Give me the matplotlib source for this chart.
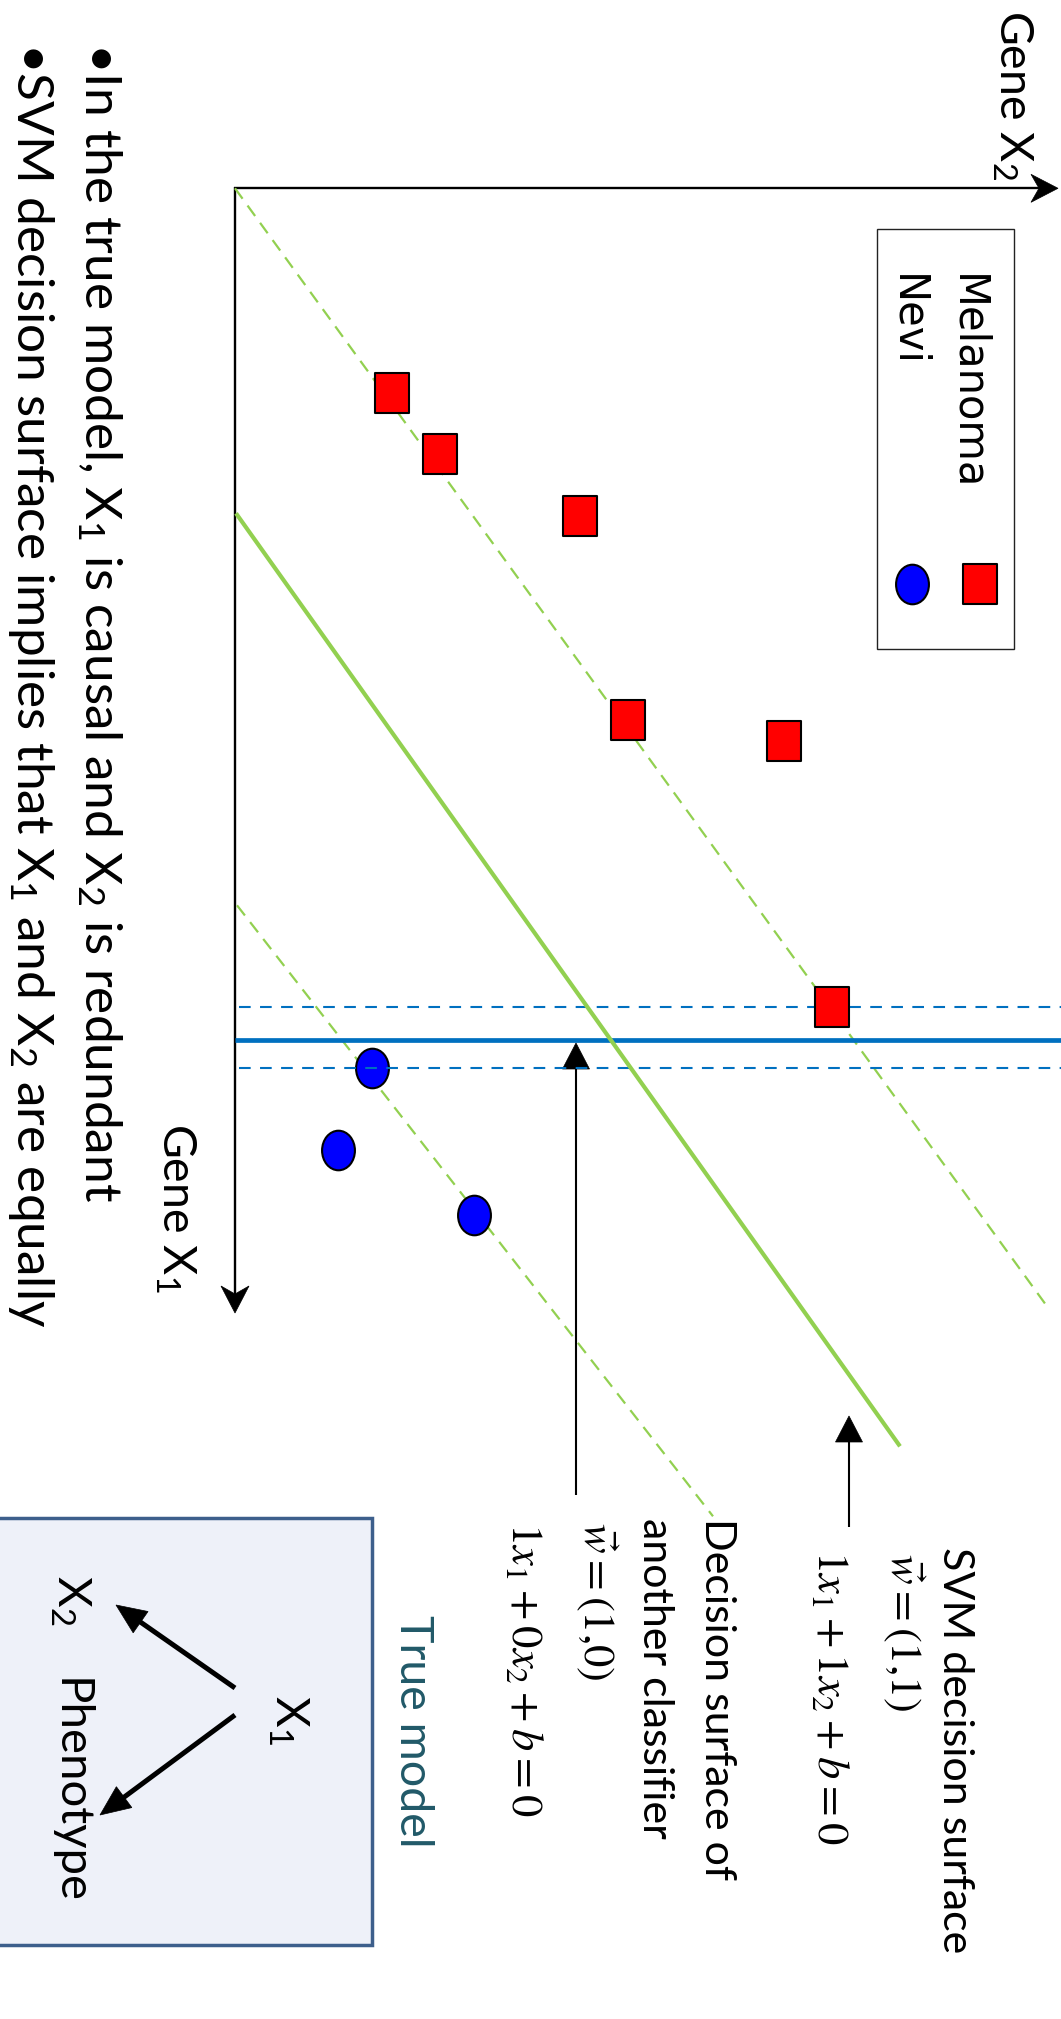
import numpy as np
import matplotlib
matplotlib.use("Agg")
import matplotlib.pyplot as plt
from matplotlib.path import Path
from matplotlib.patches import Rectangle, Polygon

# ---- data (gene-expression space: X1 runs down the page, X2 runs right) ----
melanoma_x2 = [1.57, 2.05, 3.45, 3.93, 5.49, 5.97]
melanoma_x1 = [2.05, 2.66, 3.28, 5.32, 5.53, 8.19]
nevi_x2 = [1.37, 1.03, 2.39]
nevi_x1 = [8.80, 9.62, 10.27]

# SVM decision surface and its two margins (endpoints in gene units)
svm_x2 = [0.01, 6.65]
svm_x1 = [3.25, 12.58]
svm_upper_x2 = [0.00, 8.12]
svm_upper_x1 = [0.00, 11.18]
svm_lower_x2 = [0.02, 4.78]
svm_lower_x1 = [7.17, 13.28]

# Other classifier: x1 = const, with margins
other_x1 = 8.52
other_margin_x1 = [8.19, 8.80]
other_x2_span = [0.00, 8.26]

legend_labels = ["Melanoma", "Nevi"]

# ---- style ----
plt.rcParams["font.family"] = ["Lato", "DejaVu Sans"]
plt.rcParams["mathtext.fontset"] = "custom"
plt.rcParams["mathtext.rm"] = "Lato"
plt.rcParams["mathtext.it"] = "Lato:italic"
plt.rcParams["mathtext.bf"] = "Lato:bold"

W, H = 1061, 2019
fig = plt.figure(figsize=(W / 100, H / 100), dpi=100)

# pixel-space layer for annotations
axp = fig.add_axes([0, 0, 1, 1])
axp.set_xlim(0, W)
axp.set_ylim(H, 0)
axp.axis("off")

# gene-space layer for the data
ORIGIN = (235.0, 188.3)
UNIT = 100.0
ax = fig.add_axes([0, 0, 1, 1])
ax.set_xlim(-ORIGIN[0] / UNIT, (W - ORIGIN[0]) / UNIT)
ax.set_ylim((H - ORIGIN[1]) / UNIT, -ORIGIN[1] / UNIT)
ax.axis("off")
ax.patch.set_alpha(0)

# custom marker shapes
rect_marker = Path([(-0.42, -0.5), (0.42, -0.5), (0.42, 0.5), (-0.42, 0.5), (-0.42, -0.5)],
                   [Path.MOVETO, Path.LINETO, Path.LINETO, Path.LINETO, Path.CLOSEPOLY])
circ = Path.unit_circle()
ellipse_marker = Path(circ.vertices * np.array([0.83, 1.0]), circ.codes)

GREEN = "#92D050"
LBLUE = "#0070C0"

# lines
ax.plot(svm_upper_x2, svm_upper_x1, color=GREEN, lw=1.6, dashes=(5.8, 3.8), zorder=1)
ax.plot(svm_lower_x2, svm_lower_x1, color=GREEN, lw=1.6, dashes=(5.8, 3.8), zorder=1)
ax.plot(nevi_x2, nevi_x1, linestyle="none", marker=ellipse_marker, ms=28.5,
        mfc="#0000FF", mec="black", mew=1.5, zorder=2)
ax.hlines(other_x1, other_x2_span[0], other_x2_span[1], color=LBLUE, lw=3.4, zorder=3)
for m in other_margin_x1:
    ax.plot([0.04, other_x2_span[1]], [m, m], color=LBLUE, lw=1.5, dashes=(5.6, 4.5), zorder=3)
ax.plot(svm_x2, svm_x1, color=GREEN, lw=3.0, solid_capstyle="butt", zorder=4)
ax.plot(melanoma_x2, melanoma_x1, linestyle="none", marker=rect_marker, ms=28.5,
        mfc="#FF0000", mec="black", mew=1.5, zorder=5)


def head(a, tip, direction, length, half_w, notch=0.0, z=6):
    d = np.asarray(direction, float)
    d = d / np.hypot(*d)
    p = np.array([-d[1], d[0]])
    t = np.asarray(tip, float)
    pts = [t, t - length * d + half_w * p, t - (length - notch) * d, t - length * d - half_w * p]
    a.add_patch(Polygon(pts, closed=True, fc="black", ec="black", lw=0.5, zorder=z))


def arrow(a, tail, tip, lw, length, half_w, notch=0.0, z=6):
    tail = np.asarray(tail, float)
    tip = np.asarray(tip, float)
    d = tip - tail
    d = d / np.hypot(*d)
    end = tip - d * (length - notch - 1)
    a.plot([tail[0], end[0]], [tail[1], end[1]], color="black", lw=lw,
           solid_capstyle="butt", zorder=z)
    head(a, tip, d, length, half_w, notch, z)


# coordinate axes
arrow(axp, (ORIGIN[0] - 1, ORIGIN[1]), (1058, ORIGIN[1]), 1.7, 27, 14, 8)
arrow(axp, (ORIGIN[0], ORIGIN[1] - 1), (ORIGIN[0], 1313), 1.7, 27, 14, 8)

# pointer arrows
arrow(axp, (576, 1495), (576, 1043), 1.5, 26, 13.5)
arrow(axp, (849, 1527), (849, 1416), 1.5, 26, 13.5)

# legend box
axp.add_patch(Rectangle((877, 229), 137, 420, fc="white", ec="#222222", lw=1.0, zorder=1))
axp.plot([980], [584], marker=rect_marker, ms=28.5, mfc="#FF0000", mec="black", mew=1.5, zorder=2)
axp.plot([911.5], [584], marker=ellipse_marker, ms=28.5, mfc="#0000FF", mec="black", mew=1.5, zorder=2)

# true model box
axp.add_patch(Rectangle((-10, 1518), 382, 427, fc="#EEF1F9", ec="#3D5F8C", lw=2.5, zorder=1))
arrow(axp, (235, 1688), (116, 1605), 3.6, 30, 13)
arrow(axp, (235, 1715), (100, 1815), 3.6, 30, 13)


def vtext(x, y, s, size, color="black", **kw):
    axp.text(x, y, s, fontsize=size, color=color, rotation=-90, rotation_mode="anchor",
             ha="left", va="baseline", zorder=7, **kw)


DEJAVU = ["DejaVu Sans"]
vtext(999, 10, "Gene X$_2$", 33.5)
vtext(162, 1123, "Gene X$_1$", 33.5)
vtext(955, 274, legend_labels[0], 30, family=DEJAVU)
vtext(895, 274, legend_labels[1], 30, family=DEJAVU)
vtext(85, 42, "\u2022In the true model, X$_1$ is causal and X$_2$ is redundant", 37)
vtext(17, 42, "\u2022SVM decision surface implies that X$_1$ and X$_2$ are equally", 37)

ANN = 31
EQ = 32
vtext(943, 1547, "SVM decision surface", ANN)
vtext(890, 1553, r"$\vec{w}=(1{,}1)$", EQ, math_fontfamily="stix")
vtext(818, 1550, r"$1x_1+1x_2+b=0$", EQ, math_fontfamily="stix")
vtext(705, 1518, "Decision surface of", ANN)
vtext(643, 1518, "another classifier", ANN)
vtext(583, 1522, r"$\vec{w}=(1{,}0)$", EQ, math_fontfamily="stix")
vtext(512, 1522, r"$1x_1+0x_2+b=0$", EQ, math_fontfamily="stix")

vtext(400, 1615, "True model", 33.5, color="#215968")
vtext(275, 1695, "X$_1$", 34)
vtext(57, 1575, "X$_2$", 34)
vtext(57, 1678, "Phenotype", 34)

fig.savefig("out.png", dpi=100)
